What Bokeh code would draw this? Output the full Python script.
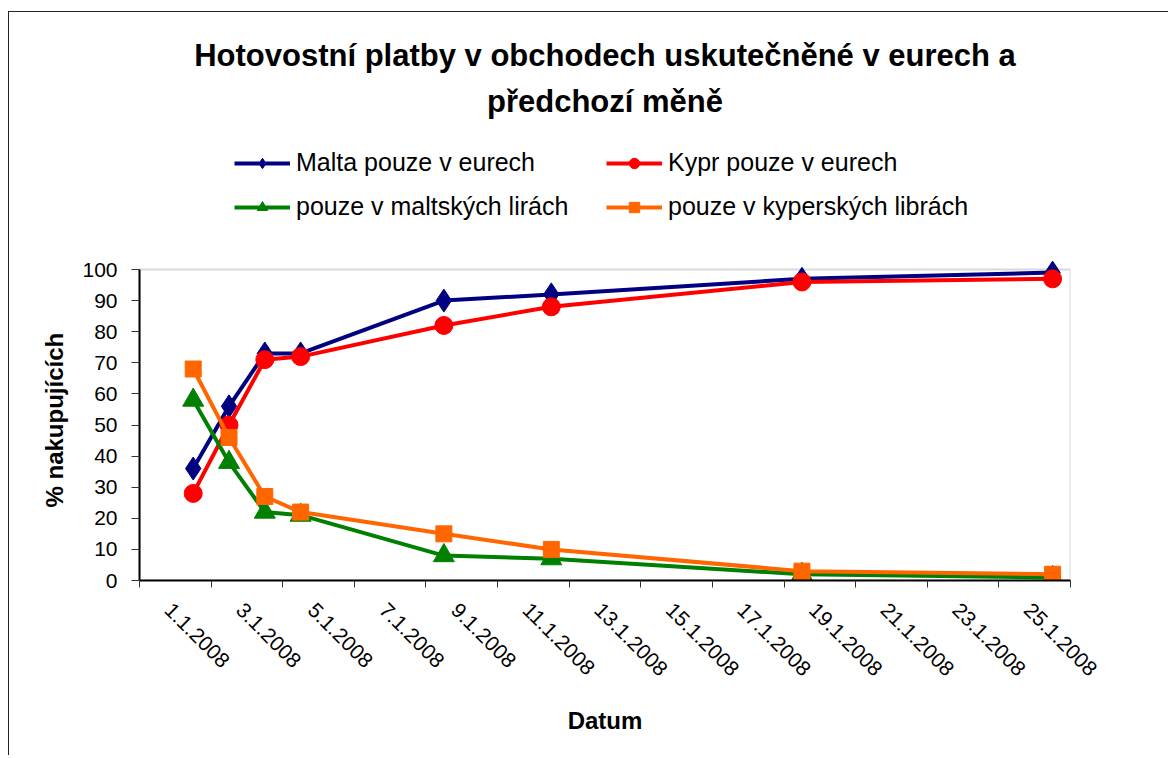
import math
from bokeh.plotting import figure
from bokeh.models import (Range1d, FixedTicker, Legend, LegendItem, Title,
                          BoxAnnotation)
from bokeh.embed import file_html
from bokeh.resources import INLINE

# ---- data ----
dates = ["2.1.2008", "3.1.2008", "4.1.2008", "5.1.2008",
         "9.1.2008", "12.1.2008", "19.1.2008", "26.1.2008"]
malta_eura = [36, 56, 73, 73, 90, 92, 97, 99]
kypr_eura = [28, 50, 71, 72, 82, 88, 96, 97]
malta_liry = [58, 38, 22, 21, 8, 7, 2, 1]
kypr_libry = [68, 46, 27, 22, 15, 10, 3, 2]
x_tick_labels = ["1.1.2008", "3.1.2008", "5.1.2008", "7.1.2008", "9.1.2008",
                 "11.1.2008", "13.1.2008", "15.1.2008", "17.1.2008",
                 "19.1.2008", "21.1.2008", "23.1.2008", "25.1.2008"]
y_ticks = [0, 10, 20, 30, 40, 50, 60, 70, 80, 90, 100]

title1 = "Hotovostní platby v obchodech uskutečněné v eurech a"
title2 = "předchozí měně"
x_title = "Datum"
y_title = "% nakupujících"

days = [int(d.split(".")[0]) for d in dates]
tick_days = [int(t.split(".")[0]) for t in x_tick_labels]
x_start, x_end = tick_days[0] - 0.5, tick_days[-1] + 1.5
boundaries = [d - 0.5 for d in tick_days] + [x_end]

FONT = "Liberation Sans"

# layout (pixels): plot box 311 px tall for 0..100, frame extended upward
# so the legend can sit inside the frame above the plot box
PLOT_H = 311
FRAME_H = 440
y_top = y_ticks[-1] * FRAME_H / PLOT_H

p = figure(width=1160, height=744, output_backend="svg",
           toolbar_location=None, title=None,
           x_range=Range1d(x_start, x_end), y_range=Range1d(0, y_top),
           min_border_left=130, min_border_right=99, min_border_top=128,
           min_border_bottom=176, background_fill_color="white",
           border_fill_color="white")
p.styles = {"margin-left": "8px", "margin-top": "11px",
            "border-left": "1px solid #222", "border-top": "1px solid #222"}

p.xgrid.visible = False
p.ygrid.visible = False
p.outline_line_color = None

# plot box (grey top/right border)
p.add_layout(BoxAnnotation(left=x_start, right=x_end, bottom=y_ticks[0],
                           top=y_ticks[-1], fill_alpha=0,
                           line_color="#808080", line_width=2,
                           level="underlay"))

# x axis
xa = p.xaxis[0]
label_pos = [d + 0.3 for d in tick_days]
xa.ticker = FixedTicker(ticks=label_pos, minor_ticks=boundaries)
xa.major_label_overrides = {d: t for d, t in zip(label_pos, x_tick_labels)}
xa.major_label_orientation = -math.pi / 4
xa.major_tick_out = 0
xa.major_tick_in = 0
xa.minor_tick_out = 7
xa.minor_tick_in = 0
xa.minor_tick_line_color = "#333333"
xa.axis_line_color = "black"
xa.axis_line_width = 2
xa.major_label_text_font = FONT
xa.major_label_text_font_size = "21px"
xa.major_label_text_color = "black"
xa.major_label_standoff = 19
xa.axis_label = x_title
xa.axis_label_text_font = FONT
xa.axis_label_text_font_size = "24px"
xa.axis_label_text_font_style = "bold"
xa.axis_label_text_color = "black"
xa.axis_label_standoff = 22

# y axis
ya = p.yaxis[0]
ya.bounds = (y_ticks[0], y_ticks[-1])
ya.ticker = FixedTicker(ticks=y_ticks)
ya.major_tick_out = 8
ya.major_tick_in = 0
ya.minor_tick_out = 0
ya.minor_tick_in = 0
ya.major_tick_line_color = "#333333"
ya.axis_line_color = "black"
ya.axis_line_width = 2
ya.major_label_text_font = FONT
ya.major_label_text_font_size = "21px"
ya.major_label_text_color = "black"
ya.major_label_standoff = 14

# y title centred on the 0..100 plot box (frame extends above it)
p.add_layout(Title(text=y_title, align="left", offset=73, text_font=FONT,
                   text_font_size="24px", text_font_style="bold",
                   text_color="black", standoff=23), "left")

series = [
    ("Malta pouze v eurech", malta_eura, "#000080", "diamond", 23),
    ("Kypr pouze v eurech", kypr_eura, "#FF0000", "circle", 18),
    ("pouze v maltských lirách", malta_liry, "#008000", "triangle", 21),
    ("pouze v kyperských librách", kypr_libry, "#FF6600", "square", 16),
]

items = []
for label, vals, color, marker, size in series:
    ln = p.line(days, vals, line_color=color, line_width=4)
    sc = p.scatter(days, vals, marker=marker, size=size,
                   fill_color=color, line_color=color)
    items.append(LegendItem(label=label, renderers=[ln, sc]))

legend = Legend(items=items, orientation="horizontal", ncols=2,
                location=(95, 359), glyph_width=56, glyph_height=26,
                label_standoff=6, label_width=295, spacing=15, padding=0,
                margin=0, border_line_color=None, background_fill_alpha=0,
                label_text_font=FONT, label_text_font_size="25px",
                label_text_color="black")
p.add_layout(legend, "center")

t2 = Title(text=title2, align="center", text_font=FONT, text_font_size="31px",
           text_font_style="bold", text_color="black", standoff=43)
t1 = Title(text=title1, align="center", text_font=FONT, text_font_size="31px",
           text_font_style="bold", text_color="black", standoff=-24)
p.add_layout(t2, "above")
p.add_layout(t1, "above")

open("out.html", "w").write(file_html(p, INLINE))
